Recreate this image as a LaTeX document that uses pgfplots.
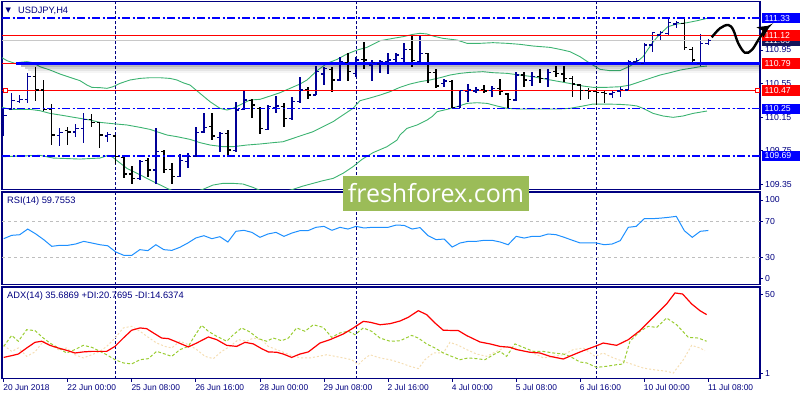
\documentclass[border=0pt]{standalone}
\usepackage{fontspec}
\setmainfont{Liberation Sans}
\newfontfamily\wmfont{Open Sans}
\newfontfamily\symfont{DejaVu Sans}
\usepackage{pgfplots}
\usepackage{pgfplotstable}
\pgfplotsset{compat=1.18}
\usetikzlibrary{arrows.meta}

\definecolor{navyc}{RGB}{0,0,128}
\definecolor{upc}{RGB}{0,0,150}
\definecolor{dashblue}{RGB}{0,0,255}
\definecolor{bandg}{RGB}{60,179,113}
\definecolor{rsic}{RGB}{30,144,255}
\definecolor{adxr}{RGB}{255,0,0}
\definecolor{pdi}{RGB}{154,205,50}
\definecolor{mdi}{RGB}{245,222,179}
\definecolor{wmgreen}{RGB}{155,188,88}
\definecolor{lvlgray}{RGB}{190,190,190}
\definecolor{bidgray}{RGB}{200,200,200}
\definecolor{bidbox}{RGB}{20,20,90}

% open tick to the left, close tick to the right
\pgfdeclareplotmark{otick}{\pgfpathmoveto{\pgfqpoint{-3pt}{0pt}}\pgfpathlineto{\pgfqpoint{0pt}{0pt}}\pgfusepathqstroke}
\pgfdeclareplotmark{ctick}{\pgfpathmoveto{\pgfqpoint{0pt}{0pt}}\pgfpathlineto{\pgfqpoint{3pt}{0pt}}\pgfusepathqstroke}

% USDJPY H4 bars, index 0 = 20 Jun 2018 16:00
\pgfplotstableread{
i O H L C
0 110.077 110.244 109.927 110.173
1 110.248 110.434 110.244 110.347
2 110.335 110.414 110.315 110.363
3 110.363 110.672 110.323 110.632
7 109.935 110.018 109.812 109.966
9 109.974 110.066 109.911 110.014
10 110.014 110.196 109.840 110.125
13 109.927 109.978 109.859 109.943
17 109.423 109.641 109.404 109.622
19 109.523 110.018 109.356 109.741
22 109.443 109.713 109.443 109.634
23 109.622 109.721 109.542 109.681
24 109.681 110.038 109.681 109.966
25 109.974 110.196 109.966 110.030
27 109.911 109.978 109.741 109.959
29 109.752 110.335 109.741 110.236
30 110.244 110.466 110.236 110.355
33 110.006 110.295 109.998 110.276
34 110.268 110.402 110.196 110.284
36 110.137 110.395 110.117 110.335
37 110.335 110.632 110.323 110.474
39 110.414 110.759 110.414 110.692
40 110.664 110.751 110.533 110.731
42 110.593 110.862 110.585 110.811
44 110.672 110.870 110.632 110.831
46 110.771 110.831 110.585 110.799
47 110.783 110.831 110.680 110.811
48 110.811 110.910 110.664 110.831
49 110.838 110.910 110.791 110.890
50 110.850 111.029 110.799 110.957
52 110.811 111.116 110.791 110.910
55 110.553 110.601 110.506 110.581
57 110.276 110.474 110.256 110.466
58 110.454 110.545 110.335 110.474
59 110.462 110.513 110.434 110.474
61 110.470 110.521 110.395 110.494
64 110.355 110.692 110.347 110.652
66 110.585 110.692 110.521 110.632
68 110.613 110.720 110.513 110.680
76 110.426 110.474 110.375 110.442
77 110.462 110.506 110.395 110.482
78 110.474 110.831 110.462 110.811
79 110.807 110.850 110.771 110.823
80 110.791 111.029 110.771 111.009
81 111.009 111.167 110.930 111.155
82 111.128 111.179 111.068 111.155
83 111.148 111.338 111.128 111.274
84 111.259 111.298 111.207 111.274
87 110.791 111.140 110.759 111.029
88 111.029 111.076 111.009 111.060
}\upbars

\pgfplotstableread{
i O H L C
4 110.632 110.743 110.347 110.474
5 110.474 110.593 110.228 110.244
6 110.244 110.303 109.820 109.939
8 109.990 110.030 109.820 109.974
11 110.125 110.188 110.030 110.085
12 110.085 110.097 109.780 109.939
14 109.927 109.927 109.594 109.681
15 109.673 109.673 109.423 109.475
16 109.475 109.570 109.352 109.423
18 109.634 109.661 109.443 109.523
20 109.741 109.760 109.483 109.530
21 109.530 109.610 109.356 109.443
26 110.038 110.196 109.879 109.927
28 109.959 109.998 109.681 109.760
31 110.347 110.363 110.137 110.295
32 110.256 110.268 109.951 110.018
35 110.276 110.315 110.038 110.137
38 110.482 110.513 110.363 110.414
41 110.720 110.743 110.454 110.593
43 110.799 110.918 110.585 110.692
45 110.838 111.048 110.720 110.831
51 110.957 111.128 110.743 110.823
53 110.910 110.918 110.561 110.680
54 110.680 110.720 110.494 110.521
56 110.573 110.593 110.256 110.268
60 110.482 110.533 110.434 110.462
62 110.490 110.601 110.414 110.454
63 110.426 110.442 110.256 110.363
65 110.652 110.692 110.513 110.593
67 110.632 110.720 110.561 110.613
69 110.692 110.759 110.632 110.672
70 110.664 110.759 110.573 110.613
71 110.613 110.640 110.395 110.545
72 110.533 110.545 110.355 110.466
73 110.466 110.494 110.363 110.454
74 110.458 110.494 110.295 110.442
75 110.442 110.474 110.323 110.434
85 111.266 111.338 110.949 110.981
86 110.957 110.981 110.783 110.831
}\downbars

\pgfplotsset{
  mtpanel/.style={
    scale only axis, width=758pt, anchor=south west,
    xmin=-0.212, xmax=94.455,
    axis line style={navyc, line width=1.1pt},
    tick style={navyc, line width=0.8pt},
    tick align=outside, major tick length=3pt,
    ytick pos=right,
    xtick=\empty,
    extra x ticks={14,44,74}, extra x tick labels={},
    extra x tick style={grid=major, major tick length=0pt,
      major grid style={navyc, dash pattern=on 3pt off 2pt, line width=0.9pt}},
    ticklabel style={font={\fontsize{8.7}{10}\selectfont}, text=navyc},
    yticklabel style={anchor=west, inner sep=0pt, xshift=2pt},
  },
}
\tikzset{
  pbox/.style={anchor=west, xshift=1.5pt, inner xsep=3pt, inner ysep=0pt,
    minimum height=10.5pt, text width=36pt, text=white,
    font={\fontsize{8.7}{10}\selectfont}},
}

\begin{document}
\begin{tikzpicture}
\path[use as bounding box] (0,0) rectangle (800pt,400pt);

% ---------------- price panel ----------------
\begin{axis}[mtpanel, at={(2pt,210.5pt)}, height=187.8pt,
  ymin=109.291, ymax=111.524,
  ytick={109.35,109.75,110.15,110.55,110.95},
  yticklabels={109.35,109.75,110.15,110.55,110.95}]

% Bollinger bands
\addplot[bandg, line width=0.9pt] coordinates {
(-0.21,110.858) (0.41,110.823) (1.41,110.791) (2.04,110.803) (2.91,110.811) (3.66,110.799)
(4.53,110.751) (5.78,110.712) (7.03,110.664) (8.28,110.624) (9.53,110.585) (10.40,110.533)
(11.03,110.505) (12.03,110.502) (12.9,110.494) (13.65,110.513) (14.53,110.553) (15.77,110.593)
(17.02,110.612) (18.27,110.620) (19.52,110.620) (20.77,110.612) (21.64,110.593) (22.39,110.561)
(23.27,110.533) (24.52,110.434) (25.77,110.335) (27.01,110.256) (27.89,110.236) (28.64,110.256)
(29.89,110.315) (30.76,110.355) (32.01,110.363) (33.26,110.402) (34.51,110.442) (35.76,110.494)
(37.0,110.545) (37.88,110.593) (39.13,110.704) (40.38,110.791) (41.63,110.838) (42.87,110.902)
(44.12,110.949) (45.37,110.981) (47.0,111.060) (48.62,111.088) (49.87,111.108) (51.12,111.136)
(51.99,111.148) (52.86,111.140) (53.61,111.116) (54.86,111.088) (56.61,111.068) (57.86,111.029)
(59.49,111.029) (61.11,111.037) (62.86,111.029) (64.48,111.017) (66.11,110.997) (68.23,110.981)
(69.48,110.957) (70.73,110.930) (71.98,110.870) (73.22,110.791) (74.47,110.720) (75.72,110.704)
(76.97,110.704) (78.22,110.759) (79.09,110.811) (79.84,110.870) (80.97,111.029) (81.84,111.128)
(82.96,111.227) (84.09,111.259) (85.34,111.274) (86.59,111.298) (87.83,111.326)};
\addplot[bandg, line width=0.9pt] coordinates {
(-0.21,110.268) (0.79,110.244) (3.28,110.244) (4.53,110.228) (5.78,110.196) (7.03,110.177)
(8.28,110.157) (9.53,110.137) (10.78,110.117) (12.03,110.089) (13.28,110.077) (14.15,110.069)
(15.4,110.058) (17.02,110.030) (18.27,110.006) (19.14,109.978) (20.39,109.939) (21.64,109.919)
(23.27,109.887) (24.52,109.848) (25.77,109.820) (27.39,109.800) (28.64,109.800) (30.39,109.820)
(32.01,109.832) (33.63,109.848) (34.88,109.859) (36.13,109.899) (37.38,109.939) (38.63,109.978)
(39.88,110.038) (41.13,110.097) (42.37,110.177) (43.62,110.256) (44.5,110.347) (45.75,110.379)
(47.0,110.414) (48.25,110.454) (49.49,110.506) (50.74,110.545) (51.99,110.573) (53.24,110.593)
(54.49,110.620) (55.74,110.652) (56.99,110.672) (58.24,110.684) (59.86,110.692) (61.11,110.680)
(62.86,110.672) (64.48,110.652) (66.11,110.632) (67.6,110.605) (69.48,110.573) (71.1,110.545)
(72.35,110.521) (73.6,110.506) (75.35,110.506) (76.97,110.513) (78.22,110.533) (79.47,110.573)
(80.72,110.613) (81.97,110.652) (83.22,110.680) (84.47,110.711) (85.71,110.731) (86.96,110.751)
(87.83,110.759)};
\addplot[bandg, line width=0.9pt] coordinates {
(-0.21,109.681) (2.04,109.689) (4.53,109.697) (6.16,109.665) (9.53,109.653) (12.03,109.665)
(13.03,109.697) (13.65,109.673) (14.15,109.634) (15.4,109.542) (16.65,109.483) (17.9,109.423)
(19.14,109.364) (20.39,109.305) (21.39,109.265) (22.64,109.225) (24.89,109.293) (26.14,109.344)
(27.39,109.364) (28.64,109.364) (29.89,109.356) (31.14,109.316) (32.38,109.265) (33.88,109.245)
(35.13,109.265) (36.13,109.293) (37.38,109.332) (38.63,109.364) (39.88,109.396) (41.13,109.423)
(42.37,109.483) (43.62,109.562) (44.75,109.649) (46.12,109.729) (47.87,109.800) (49.12,109.879)
(49.49,109.939) (50.37,110.018) (51.62,110.058) (52.87,110.117) (53.49,110.157) (54.12,110.216)
(55.37,110.244) (56.61,110.276) (57.86,110.315) (59.11,110.323) (60.36,110.315) (61.61,110.284)
(62.86,110.256) (64.48,110.248) (69.23,110.248) (70.73,110.256) (72.35,110.284) (73.60,110.307)
(75.35,110.307) (76.97,110.303) (78.22,110.295) (79.09,110.284) (79.84,110.256) (81.1,110.196)
(82.35,110.165) (83.60,110.149) (84.84,110.165) (86.09,110.196) (87.83,110.224)};

% OHLC bars
\addplot[upc, only marks, mark=otick, mark options={line width=1.4pt, solid},
  error bars/.cd, y dir=both, y explicit, error mark=none,
  error bar style={upc, line width=1.4pt}]
  table[x=i, y=O, y error plus expr=\thisrow{H}-\thisrow{O},
        y error minus expr=\thisrow{O}-\thisrow{L}] {\upbars};
\addplot[upc, only marks, mark=ctick, mark options={line width=1.4pt, solid}]
  table[x=i, y=C] {\upbars};
\addplot[black, only marks, mark=otick, mark options={line width=1.4pt, solid},
  error bars/.cd, y dir=both, y explicit, error mark=none,
  error bar style={black, line width=1.4pt}]
  table[x=i, y=O, y error plus expr=\thisrow{H}-\thisrow{O},
        y error minus expr=\thisrow{O}-\thisrow{L}] {\downbars};
\addplot[black, only marks, mark=ctick, mark options={line width=1.4pt, solid}]
  table[x=i, y=C] {\downbars};

% horizontal levels
\addplot[bidgray, line width=0.9pt] coordinates {(-0.212,111.06) (94.455,111.06)};
\addplot[dashblue, line width=1.2pt, dash pattern=on 8pt off 2.5pt on 2pt off 2.5pt]
  coordinates {(-0.212,111.33) (94.455,111.33)};
\addplot[dashblue, line width=1.2pt, dash pattern=on 8pt off 2.5pt on 2pt off 2.5pt]
  coordinates {(-0.212,110.25) (94.455,110.25)};
\addplot[dashblue, line width=1.2pt, dash pattern=on 8pt off 2.5pt on 2pt off 2.5pt]
  coordinates {(-0.212,109.69) (94.455,109.69)};
\addplot[adxr, line width=1.1pt] coordinates {(-0.212,111.12) (94.455,111.12)};
\addplot[adxr, line width=1.1pt] coordinates {(-0.212,110.47) (94.455,110.47)};
\addplot[adxr, line width=1.1pt] coordinates {(-0.212,110.79) (94.455,110.79)};
% shadow under the thick trend line
\fill[black, fill opacity=0.28] (axis cs:2.2,110.768) rectangle (axis cs:94.455,110.744);
\fill[black, fill opacity=0.18] (axis cs:2.6,110.744) rectangle (axis cs:94.455,110.720);
\fill[black, fill opacity=0.10] (axis cs:3.0,110.720) rectangle (axis cs:94.455,110.696);
\fill[black, fill opacity=0.04] (axis cs:3.4,110.696) rectangle (axis cs:94.455,110.672);
\addplot[dashblue, line width=3pt] coordinates {(1.55,110.79) (94.455,110.79)};
\addplot[only marks, mark=square*, mark size=2pt, red,
  mark options={fill=white, line width=0.8pt}] coordinates {(0.2,110.47) (94.1,110.47)};
\end{axis}

% ---------------- RSI panel ----------------
\begin{axis}[mtpanel, at={(2pt,115.3pt)}, height=92.7pt,
  ymin=-0.44, ymax=102.56,
  ytick={7,30.3,70.3,93.7}, yticklabels={0,30,70,100}]
\addplot[lvlgray, line width=0.9pt, dash pattern=on 3pt off 3pt] coordinates {(-0.212,70) (94.455,70)};
\addplot[lvlgray, line width=0.9pt, dash pattern=on 3pt off 3pt] coordinates {(-0.212,30) (94.455,30)};
\addplot[rsic, line width=1pt] coordinates {
(0,50.7) (1,54.4) (2,55.1) (3,61.4) (4,56.0) (5,49.6) (6,42.2) (7,43.3) (8,43.3) (9,44.8)
(10,47.7) (11,45.9) (12,44.0) (13,42.8) (14,35.9) (15,32.2) (16,32.2) (17,38.5) (18,37.4) (19,44.0)
(20,38.5) (21,37.7) (22,41.1) (23,45.9) (24,51.5) (25,54.0) (26,50.7) (27,52.9) (28,47.0) (29,58.9)
(30,60.0) (31,57.7) (32,52.2) (33,55.9) (34,57.7) (35,53.3) (36,57.0) (37,59.6) (38,59.6) (39,63.3)
(40,64.4) (41,60.0) (42,63.3) (43,61.4) (44,64.4) (45,62.6) (46,63.3) (47,63.3) (48,63.3) (49,65.8)
(50,65.5) (51,61.4) (52,63.0) (53,54.0) (54,49.6) (55,50.3) (56,41.4) (57,45.9) (58,47.7) (59,47.7)
(60,48.9) (61,48.9) (62,47.0) (63,44.0) (64,53.3) (65,51.4) (66,53.3) (67,53.3) (68,55.9) (69,55.1)
(70,52.2) (71,49.0) (72,45.9) (73,45.9) (74,45.9) (75,44.0) (76,44.8) (77,48.5) (78,63.3) (79,64.4)
(80,72.9) (81,72.9) (82,73.5) (83,74.4) (84,75.5) (85,59.6) (86,52.2) (87,58.9) (88,59.8)};
\end{axis}

% ---------------- ADX panel ----------------
\begin{axis}[mtpanel, at={(2pt,21.3pt)}, height=91.7pt,
  ymin=0.61, ymax=52.25,
  ytick={3.8,47.9}, yticklabels={1,50},
  xtick={0,8,...,88}, xtick pos=left,
  xticklabels={20 Jun 2018,22 Jun 00:00,25 Jun 08:00,26 Jun 16:00,28 Jun 00:00,29 Jun 08:00,
    2 Jul 16:00,4 Jul 00:00,5 Jul 08:00,6 Jul 16:00,10 Jul 00:00,11 Jul 08:00},
  xticklabel style={anchor=north west, inner sep=0pt, xshift=-0.5pt, yshift=-3pt,
    font={\fontsize{8.4}{10}\selectfont}}]
\addplot[mdi, line width=1pt, dash pattern=on 2pt off 2pt] coordinates {
(0,19.4) (1.0,16.0) (1.83,17.9) (2.87,13.2) (3.91,15.7) (4.95,21.7) (5.78,19.8) (6.82,17.0)
(7.86,17.9) (8.90,14.1) (9.95,12.3) (10.99,14.1) (12.03,16.0) (12.86,18.8) (13.9,23.5) (14.94,29.2)
(15.98,30.1) (17.02,27.3) (18.06,23.9) (19.1,20.7) (20.14,18.8) (20.98,17.9) (22.02,21.7) (23.06,19.8)
(24.1,17.0) (25.14,13.2) (26.18,11.9) (27.22,16.0) (28.26,18.8) (29.3,22.6) (30.34,21.7) (31.18,23.5)
(32.22,22.6) (33.05,18.8) (34.09,17.0) (35.13,15.1) (36.17,13.2) (37.21,12.3) (38.25,12.3) (39.3,13.2)
(40.34,14.1) (41.38,13.2) (42.42,12.3) (43.46,11.3) (44.29,8.5) (44.91,11.3) (45.75,14.1) (47.0,12.3)
(48.25,11.3) (49.5,9.6) (50.74,7.6) (51.78,6.3) (52.61,11.3) (53.65,15.1) (54.9,15.1) (55.73,21.1)
(56.78,19.4) (57.82,17.0) (59.06,14.5) (60.31,13.2) (61.56,16.0) (62.81,18.8) (63.85,17.9) (65.1,16.0)
(66.14,15.1) (67.39,12.3) (68.64,13.2) (69.89,14.1) (71.14,17.0) (72.39,17.9) (73.84,13.2) (74.88,15.1)
(76.13,12.3) (77.38,10.4) (78.63,8.5) (79.88,6.6) (81.13,5.7) (82.79,4.8) (83.63,3.8) (84.88,11.3)
(85.92,19.4) (86.96,17.9) (87.58,16.4)};
\addplot[pdi, line width=1pt, dash pattern=on 3pt off 2pt] coordinates {
(0,18.8) (1.0,25.0) (1.83,21.7) (2.87,28.2) (3.91,27.7) (4.95,23.5) (5.78,20.7) (6.82,17.9)
(7.86,15.1) (8.90,17.0) (9.95,19.4) (10.99,18.3) (12.03,16.0) (12.86,14.1) (13.9,11.3) (14.94,9.5)
(15.98,8.9) (17.02,11.3) (18.06,11.9) (19.1,16.0) (20.14,14.5) (20.98,13.2) (22.02,17.0) (23.06,18.8)
(23.68,23.5) (24.72,30.7) (25.56,27.3) (26.6,24.5) (27.85,21.7) (28.68,25.4) (29.72,29.2) (30.76,26.9)
(31.80,23.2) (32.84,21.7) (33.67,23.5) (34.72,22.0) (35.55,23.5) (36.59,29.2) (37.63,27.3) (38.67,31.0)
(39.92,29.5) (40.96,23.9) (42.0,26.4) (43.04,27.3) (43.87,25.4) (44.91,29.2) (45.95,27.3) (47.0,23.5)
(48.25,21.7) (49.5,22.0) (50.95,25.0) (51.78,23.5) (52.82,20.2) (53.86,17.9) (54.9,15.1) (55.94,13.2)
(56.98,11.3) (58.02,12.3) (59.06,11.9) (60.1,11.3) (61.15,14.1) (61.98,16.0) (62.81,13.2) (63.85,20.2)
(65.1,17.9) (66.14,16.0) (67.39,16.0) (68.64,15.1) (69.89,14.5) (70.72,13.2) (71.97,10.0) (72.80,9.5)
(74.05,7.0) (75.3,7.6) (76.55,8.5) (77.38,8.9) (78.22,21.7) (79.46,27.3) (80.5,30.1) (81.55,29.5)
(82.79,34.8) (84.04,31.0) (85.5,23.9) (86.75,23.5) (87.79,21.7)};
\addplot[adxr, line width=1.2pt] coordinates {
(0,12.6) (1.0,13.6) (1.83,14.5) (2.87,17.9) (3.91,21.1) (4.74,21.7) (5.78,19.4) (6.82,17.9)
(7.86,16.6) (8.90,15.1) (9.95,15.7) (10.99,16.0) (12.86,16.0) (13.9,18.8) (14.94,23.5) (15.98,27.9)
(17.02,29.2) (17.85,28.8) (18.69,26.4) (19.73,23.5) (20.56,23.2) (21.6,21.3) (23.06,18.5) (24.1,20.7)
(25.56,24.1) (26.6,22.6) (27.85,19.4) (29.1,18.8) (30.14,21.1) (31.18,20.2) (32.22,17.5) (33.05,15.7)
(34.09,15.5) (34.92,14.5) (35.96,12.6) (37.0,14.5) (38.05,15.7) (39.5,20.7) (40.75,22.6) (42.42,25.8)
(43.67,29.2) (44.91,32.9) (45.75,32.4) (47.0,31.0) (48.25,31.6) (49.5,33.1) (50.53,35.2) (51.78,38.9)
(52.82,36.7) (53.86,32.0) (54.9,27.9) (56.78,27.7) (57.82,24.9) (59.48,21.3) (60.73,20.2) (61.98,18.8)
(63.23,18.3) (64.06,17.0) (65.73,15.5) (66.97,15.1) (68.22,13.2) (69.89,11.7) (71.14,14.1) (72.39,16.4)
(73.84,18.8) (74.88,20.7) (76.55,19.4) (78.01,22.6) (79.46,27.7) (81.13,35.2) (82.79,42.7) (83.83,48.9)
(84.79,48.3) (85.92,42.7) (86.96,38.9) (87.79,36.7)};
\end{axis}

% ---------------- overlay: price boxes and hand-drawn arrow ----------------
\begin{axis}[at={(2pt,210.5pt)}, anchor=south west, scale only axis,
  width=758pt, height=187.8pt, xmin=-0.212, xmax=94.455,
  ymin=109.291, ymax=111.524, hide axis, clip=false]
\node[pbox, fill=bidbox] at (axis cs:94.455,111.06) {111.06};
\node[pbox, fill=adxr] at (axis cs:94.455,111.12) {111.12};
\node[pbox, fill=dashblue] at (axis cs:94.455,111.33) {111.33};
\node[pbox, fill=adxr] at (axis cs:94.455,110.79) {110.79};
\node[pbox, fill=adxr] at (axis cs:94.455,110.47) {110.47};
\node[pbox, fill=dashblue] at (axis cs:94.455,110.25) {110.25};
\node[pbox, fill=dashblue] at (axis cs:94.455,109.69) {109.69};
\addplot[black, line width=2.4pt, smooth, tension=0.6,
  -{Stealth[length=12pt, width=12pt, inset=3pt]}] coordinates {
  (88.42,111.100) (89.46,111.208) (90.50,111.247) (91.12,111.187) (91.74,111.029)
  (92.58,110.917) (93.42,110.949) (94.24,111.068) (95.08,111.187) (95.71,111.240)};
\end{axis}

% panel captions
\node[anchor=west, inner sep=0pt, text=navyc, font={\symfont\fontsize{7}{8}\selectfont}] at (5.5pt,389pt) {▼};
\node[anchor=west, inner sep=0pt, text=navyc, font={\fontsize{9.3}{11}\selectfont}] at (18pt,389pt) {USDJPY,H4};
\node[anchor=west, inner sep=0pt, text=navyc, font={\fontsize{9.3}{11}\selectfont}] at (7pt,198.7pt) {RSI(14) 59.7553};
\node[anchor=west, inner sep=0pt, text=navyc, font={\fontsize{9.3}{11}\selectfont}] at (7pt,103.7pt) {ADX(14) 35.6869 +DI:20.7695 -DI:14.6374};

% watermark
\node[fill=wmgreen, minimum width=186pt, minimum height=34.7pt, inner sep=0pt,
  text=white, font={\wmfont\fontsize{25}{25}\selectfont}] at (436pt,206.7pt) {freshforex.com};
\end{tikzpicture}
\end{document}
